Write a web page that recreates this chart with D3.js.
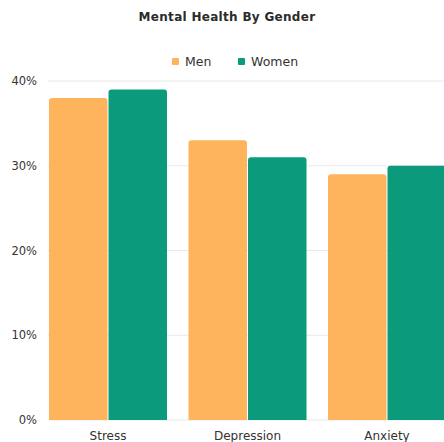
<!DOCTYPE html>
<html><head><meta charset="utf-8">
<script src="https://cdn.jsdelivr.net/npm/d3@7"></script>
<style>body{margin:0;background:#fff;}svg{display:block;font-family:"DejaVu Sans",sans-serif;}</style>
</head><body>
<svg id="c" width="444" height="442"></svg>
<script>
const categories = ["Stress", "Depression", "Anxiety"];
const seriesNames = ["Men", "Women"];
const menValues = [38, 33, 29];
const womenValues = [39, 31, 30];
const yTicks = [0, 10, 20, 30, 40];
const colors = ["#FDB45C", "#0B9A7B"];

const svg = d3.select("#c");
const W = 444;
const plotTop = 81, plotBottom = 420;
const FONT = "'DejaVu Sans',sans-serif";
const y = d3.scaleLinear().domain([0, 40]).range([plotBottom, plotTop]);
const x0 = d3.scaleBand().domain(categories).range([38.25, 456.75]).paddingInner(0.154).paddingOuter(0.077);
const x1 = d3.scaleBand().domain(seriesNames).range([0, x0.bandwidth()]).paddingInner(0.017);

// title
svg.append("text").attr("x", 227).attr("y", 21).attr("text-anchor", "middle")
  .attr("font-size", 12).attr("letter-spacing", 0.3).attr("font-weight", 700).attr("fill", "#2b2b2b").text("Mental Health By Gender");

// legend
const leg = [{n:"Men", x:172}, {n:"Women", x:238}];
leg.forEach((l,i)=>{
  svg.append("rect").attr("x", l.x).attr("y", 58).attr("width", 7).attr("height", 7).attr("rx",1).attr("fill", colors[i]);
  svg.append("text").attr("x", l.x+13).attr("y", 66).attr("font-size", 12.5).attr("fill", "#333").text(l.n);
});

// grid
svg.append("g").selectAll("line").data(yTicks).join("line")
  .attr("x1", 48).attr("x2", W).attr("y1", d => y(d)).attr("y2", d => y(d))
  .attr("stroke", "#e8e8e8").attr("stroke-width", 1);
const yAxis = d3.axisLeft(y).tickValues(yTicks).tickFormat(d => d + "%").tickSize(0);
const g = svg.append("g").attr("transform", "translate(37,0)").call(yAxis);
g.select(".domain").remove();
g.selectAll("text").attr("font-size", 11.5).attr("fill", "#333").attr("x", 0).attr("font-family", FONT);

// bars
const data = categories.map((c,i)=>({c, vals:[menValues[i], womenValues[i]]}));
function topRounded(x, yTop, w, h, r){
  return `M${x},${yTop+h}V${yTop+r}Q${x},${yTop} ${x+r},${yTop}H${x+w-r}Q${x+w},${yTop} ${x+w},${yTop+r}V${yTop+h}Z`;
}
const groups = svg.append("g").selectAll("g").data(data).join("g")
  .attr("transform", d => `translate(${x0(d.c)},0)`);
groups.selectAll("path").data(d => d.vals.map((v,i)=>({s:seriesNames[i], v, i}))).join("path")
  .attr("d", d => topRounded(x1(d.s), y(d.v), x1.bandwidth(), plotBottom - y(d.v), 3))
  .attr("fill", d => colors[d.i]);

// x axis labels
const xAxis = d3.axisBottom(x0).tickSize(0);
const xg = svg.append("g").attr("transform", `translate(0,${plotBottom})`).call(xAxis);
xg.select(".domain").remove();
xg.selectAll("text").attr("font-size", 12).attr("fill", "#333").attr("dy", "1.45em").attr("font-family", FONT);
</script>
</body></html>
